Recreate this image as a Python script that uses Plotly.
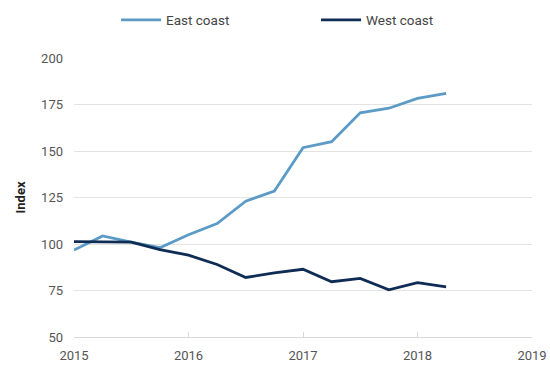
import plotly.graph_objects as go

quarters = [2015.0, 2015.25, 2015.5, 2015.75, 2016.0, 2016.25, 2016.5, 2016.75,
            2017.0, 2017.25, 2017.5, 2017.75, 2018.0, 2018.25]
east_coast = [96.8, 104.3, 101, 98, 105, 111, 123, 128.5, 151.8, 155, 170.5, 173, 178.3, 181]
west_coast = [101.3, 101, 101, 97, 94, 89, 82, 84.5, 86.4, 79.7, 81.5, 75.4, 79.2, 77]
x_ticks = [2015, 2016, 2017, 2018, 2019]
y_ticks = [50, 75, 100, 125, 150, 175, 200]

fig = go.Figure()
fig.add_trace(go.Scatter(x=quarters, y=east_coast, mode="lines", name="East coast",
                         line=dict(color="#5b9bc6", width=2.8)))
fig.add_trace(go.Scatter(x=quarters, y=west_coast, mode="lines", name="West coast",
                         line=dict(color="#0f2c55", width=2.8)))

fig.update_layout(
    width=550, height=365,
    margin=dict(l=74, r=18, t=58, b=28, autoexpand=False),
    paper_bgcolor="white", plot_bgcolor="white",
    font=dict(family="Roboto, Arial, sans-serif", size=13, color="#555555"),
    showlegend=True,
    legend=dict(orientation="h", xref="container", yref="container",
                x=0.211, y=0.945, xanchor="left", yanchor="middle",
                font=dict(size=13.5, color="#444444"),
                entrywidth=145, entrywidthmode="pixels", itemwidth=40),
    xaxis=dict(range=[2015, 2019], tickvals=x_ticks, ticktext=[str(v) for v in x_ticks],
               showgrid=False, zeroline=False, showline=True, linecolor="#d9d9d9",
               linewidth=1, ticks="inside", ticklen=5, tickcolor="#d9d9d9",
               ticklabelstandoff=6,
               tickfont=dict(color="#555555", size=13)),
    yaxis=dict(range=[50, 200], tickvals=y_ticks, showgrid=True, gridcolor="#e3e3e3",
               gridwidth=1, zeroline=False, showline=False, ticks="", ticklen=0,
               ticklabelstandoff=10,
               tickfont=dict(color="#555555", size=13),
               title=dict(text="<b>Index</b>", font=dict(color="#222222", size=13),
                          standoff=12)),
)

fig.write_html("out.html")
